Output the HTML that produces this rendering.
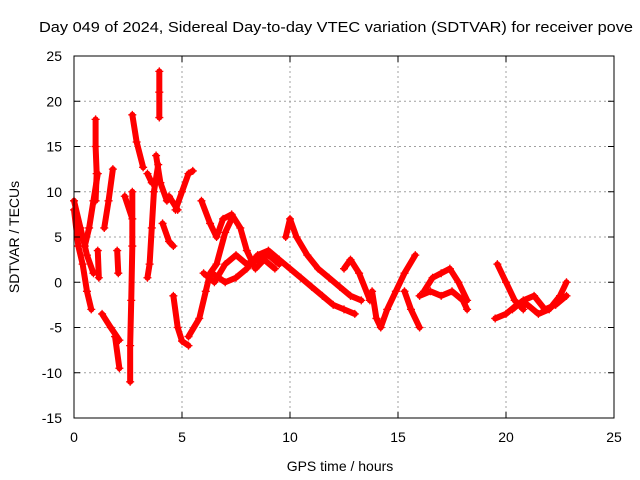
<!DOCTYPE html>
<html><head><meta charset="utf-8"><style>
body{margin:0;background:#fff;width:640px;height:480px;overflow:hidden}
svg{display:block;font-family:"Liberation Sans",Arial,sans-serif}
</style></head><body>
<svg id="chart" width="640" height="480">
<text x="39" y="32" font-size="15" textLength="594" lengthAdjust="spacingAndGlyphs" fill="#000">Day 049 of 2024, Sidereal Day-to-day VTEC variation (SDTVAR) for receiver pove</text>
<g id="grid"></g><g id="series"></g><g id="axes"></g>
<text x="340" y="471" font-size="14" text-anchor="middle">GPS time / hours</text>
<text transform="translate(19,237) rotate(-90)" font-size="14" text-anchor="middle">SDTVAR / TECUs</text>
</svg>
<script>
const xTicks=[0,5,10,15,20,25];
const yTicks=[-15,-10,-5,0,5,10,15,20,25];
const arcTimes=[
[0.0,0.2,0.4,0.6,0.8],
[0.0,0.3,0.6,0.9],
[0.5,0.7,0.9,1.1],
[1.0,1.0,1.05,1.0],
[1.1,1.15],
[1.4,1.6,1.8],
[1.3,1.7,2.1],
[1.9,2.1],
[2.0,2.05],
[2.35,2.7],
[2.7,2.7,2.65,2.6,2.6],
[2.7,2.9,3.2],
[3.4,3.5,3.6,3.7,3.9],
[3.4,3.6],
[3.8,4.0,4.3],
[3.95,3.95,3.95],
[4.1,4.4,4.6],
[4.4,4.8],
[4.7,5.0,5.3,5.5],
[4.6,4.8,5.0,5.3],
[5.3,5.8,6.1,6.3,6.6,7.0,7.3],
[5.9,6.3,6.6,6.9,7.3,7.7,8.0,8.4,8.8,9.3],
[6.0,6.5,7.0,7.5,8.0,8.5,9.0,9.5],
[6.4,7.0,7.5,8.0,8.5,9.0,9.5,10.0,10.5,11.0,11.5,12.0,12.5,13.0],
[9.8,10.0,10.3,10.8,11.3,11.8,12.3,12.8,13.3],
[12.5,12.8,13.2,13.7],
[13.8,14.0,14.2,14.5,14.9,15.3,15.8],
[15.3,15.6,16.0],
[16.2,16.6,17.0,17.4,17.8,18.2],
[16.0,16.5,17.0,17.5,18.0,18.2],
[19.6,20.0,20.4,20.8],
[19.5,20.0,20.5,21.0,21.5,22.0,22.5,22.8],
[20.3,20.8,21.3,21.8,22.3,22.8]
];
const arcValues=[
[8,4,2,-1,-3],
[9,6,3,1],
[4,6,9,12],
[18,15,12,9],
[3.5,0.5],
[6,9,12.5],
[-3.5,-5,-6.4],
[-6,-9.5],
[3.5,1],
[9.5,7],
[10,4,-2,-7,-11],
[18.5,15.5,12.7],
[0.5,2,6,10,13],
[12,11],
[14,11,9],
[23.3,21,18.2],
[6.5,4.5,4],
[9.5,8],
[8,10,12,12.3],
[-1.5,-5,-6.5,-7],
[-6,-4,-1,1,2,5.5,7],
[9,6.5,5,7,7.5,6,3.5,1.5,2.5,1.5],
[1,0,2,3,2,2.5,3,2],
[1,0,0.5,1.5,3,3.5,2.5,1.5,0.5,-0.5,-1.5,-2.5,-3,-3.5],
[5,7,5,3,1.5,0.5,-0.5,-1.5,-2],
[1.5,2.5,1,-2],
[-1,-4,-5,-3,-1,1,3],
[-1,-3,-5],
[-1,0.5,1,1.5,0,-2],
[-1.5,-1,-1.5,-1,-2,-3],
[2,0,-2,-3],
[-4,-3.5,-2.5,-2.5,-3.5,-3,-1.5,0],
[-3,-2,-1.5,-3,-2.5,-1.5]
];
const NS='http://www.w3.org/2000/svg';
const X0=74,X1=614,Y0=418,Y1=56;
function xs(h){return X0+(h-0)/(25-0)*(X1-X0);}
function ys(v){return Y0-(v+15)/(40)*(Y0-Y1);}
function mk(t,a,p){const e=document.createElementNS(NS,t);for(const k in a)e.setAttribute(k,a[k]);p.appendChild(e);return e;}
const grid=document.getElementById('grid'),axes=document.getElementById('axes'),ser=document.getElementById('series');
xTicks.forEach(t=>{
 const x=xs(t);
 if(t>0&&t<25){const l=mk('line',{x1:x,x2:x,y1:Y1,y2:Y0,stroke:'#a0a0a0','stroke-dasharray':'2,3'},grid);
 
 }
 mk('line',{x1:x,x2:x,y1:Y0,y2:Y0-6,stroke:'#000'},axes);
 mk('line',{x1:x,x2:x,y1:Y1,y2:Y1+6,stroke:'#000'},axes);
 const tx=mk('text',{x:x,y:Y0+24,'font-size':14,'text-anchor':'middle'},axes);tx.textContent=t;
 
 
});
yTicks.forEach(t=>{
 const y=ys(t);
 if(t>-15&&t<25){const l=mk('line',{x1:X0,x2:X1,y1:y,y2:y,stroke:'#a0a0a0','stroke-dasharray':'2,3'},grid);
 
 }
 mk('line',{x1:X0,x2:X0+6,y1:y,y2:y,stroke:'#000'},axes);
 mk('line',{x1:X1,x2:X1-6,y1:y,y2:y,stroke:'#000'},axes);
 const tx=mk('text',{x:X0-12,y:y+5,'font-size':14,'text-anchor':'end'},axes);tx.textContent=t;
 
 
});
const fr=mk('rect',{x:X0,y:Y1,width:X1-X0,height:Y0-Y1,fill:'none',stroke:'#000'},axes);


arcTimes.forEach((ts,i)=>{
 const vs=arcValues[i];
 const g=mk('g',{},ser);
 
 
 const pts=ts.map((t,j)=>xs(t)+','+ys(vs[j])).join(' ');
 mk('polyline',{points:pts,fill:'none',stroke:'#ff0000','stroke-width':6,'stroke-linejoin':'round','stroke-linecap':'round'},g);
 ts.forEach((t,j)=>{
  const x=xs(t),y=ys(vs[j]);
  const p=mk('path',{d:`M${x-4},${y}H${x+4}M${x},${y-4}V${y+4}`,stroke:'#ff0000','stroke-width':1.3},g);
  
  
 });
});
</script>
</body></html>
